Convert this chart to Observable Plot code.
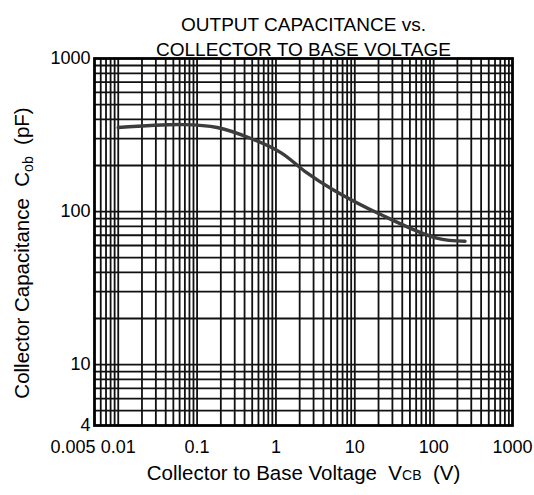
<!DOCTYPE html>
<html>
<head>
<meta charset="utf-8">
<script src="https://cdn.jsdelivr.net/npm/d3@7"></script>
<script src="https://cdn.jsdelivr.net/npm/@observablehq/plot@0.6"></script>
<style>
  html, body { margin: 0; padding: 0; background: #fff; }
  svg text { white-space: pre; }
</style>
</head>
<body>
<div id="chart"></div>
<script>
// Data
const vcb = [0.01, 0.067, 0.18, 0.5, 1.18, 2.3, 5.3, 21, 109, 250];
const cob = [354, 370, 354, 298, 241, 184, 139, 96, 67, 64];

const xTickValues = [0.01, 0.1, 1, 10, 100, 1000];
const xTickLabels = ["0.01", "0.1", "1", "10", "100", "1000"];
const xFirstTick = 0.005;
const xFirstLabel = "0.005";
const yTickValues = [4, 10, 100, 1000];
const yTickLabels = ["4", "10", "100", "1000"];

const titleLines = ["OUTPUT CAPACITANCE vs.", "COLLECTOR TO BASE VOLTAGE"];
const xLabel = "Collector to Base Voltage  V";
const xLabelSub = "CB";
const xLabelEnd = "  (V)";
const yLabel = "Collector Capacitance  C";
const yLabelSub = "ob";
const yLabelEnd = "  (pF)";

const gridMultipliers = [1, 2, 3, 4, 5, 6, 7, 8, 9];
const xDecades = [0.001, 0.01, 0.1, 1, 10, 100, 1000];
const yDecades = [1, 10, 100, 1000];

const xDomain = [0.005, 1000];
const yDomain = [4, 1000];

const gridX = xDecades.flatMap(d => gridMultipliers.map(m => m * d))
  .filter(v => v >= xDomain[0] * 1.0001 && v <= xDomain[1] * 0.9999);
const gridY = yDecades.flatMap(d => gridMultipliers.map(m => m * d))
  .filter(v => v >= yDomain[0] * 1.0001 && v <= yDomain[1] * 0.9999);

const data = vcb.map((v, i) => ({v, c: cob[i]}));
const xTicks = xTickValues.map((v, i) => ({v, t: xTickLabels[i]}));
const yTicks = yTickValues.map((v, i) => ({v, t: yTickLabels[i]}));

const font = "'Liberation Sans', Arial, Helvetica, sans-serif";

const chart = Plot.plot({
  width: 534,
  height: 495,
  marginLeft: 94,
  marginRight: 22,
  marginTop: 58,
  marginBottom: 70,
  style: {fontFamily: font, fontSize: "18px", color: "#000", background: "#fff", overflow: "visible"},
  x: {type: "log", domain: xDomain, axis: null},
  y: {type: "log", domain: yDomain, axis: null},
  marks: [
    Plot.ruleX(gridX, {x: d => d, stroke: "#111", strokeWidth: 1.8}),
    Plot.ruleY(gridY, {y: d => d, stroke: "#111", strokeWidth: 1.8}),
    Plot.line(data, {x: "v", y: "c", stroke: "#3c3c3c", strokeWidth: 3.4, curve: "catmull-rom"}),
    Plot.frame({stroke: "#000", strokeWidth: 2.8}),
    Plot.text(xTicks, {x: "v", text: "t", frameAnchor: "bottom", dy: 27, fontSize: 18}),
    Plot.text([xFirstLabel], {x: () => xFirstTick, text: d => d, frameAnchor: "bottom", dy: 27, dx: 1, textAnchor: "end", fontSize: 18}),
    Plot.text(yTicks, {y: "v", text: "t", frameAnchor: "left", dx: -4, textAnchor: "end", fontSize: 18}),
    Plot.text([titleLines[0]], {text: d => d, frameAnchor: "top", dy: -41, fontSize: 19}),
    Plot.text([titleLines[1]], {text: d => d, frameAnchor: "top", dy: -16, fontSize: 19}),
    Plot.text([xLabel], {text: d => d, frameAnchor: "bottom", dy: 54, fontSize: 20.5}),
    Plot.text([yLabel], {text: d => d, frameAnchor: "left", textAnchor: "middle", dx: -72, dy: 11, rotate: -90, fontSize: 20.5})
  ]
});

document.getElementById("chart").appendChild(chart);

// Add subscripts to axis labels
d3.select(chart).selectAll("text").each(function() {
  const t = this.textContent;
  if (t === xLabel) {
    const s = d3.select(this);
    s.text(xLabel);
    s.append("tspan").attr("font-size", 14).text(xLabelSub);
    s.append("tspan").text(xLabelEnd);
  } else if (t === yLabel) {
    const s = d3.select(this);
    s.text(yLabel);
    s.append("tspan").attr("font-size", 14).attr("dy", 4).text(yLabelSub);
    s.append("tspan").attr("dy", -4).text(yLabelEnd);
  }
});
</script>
</body>
</html>
